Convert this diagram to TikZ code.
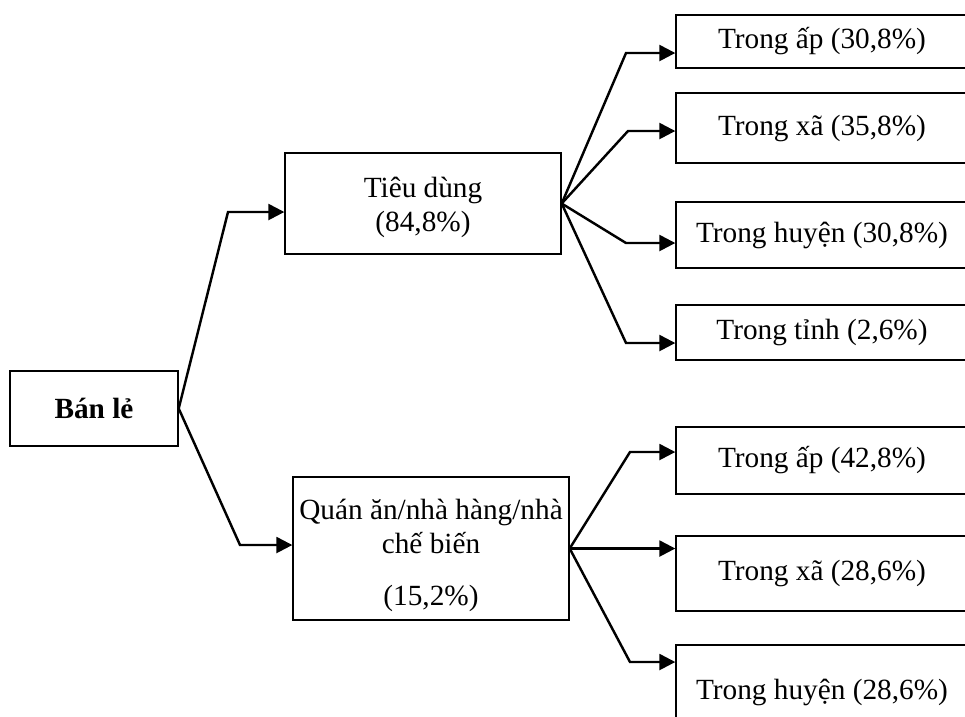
\documentclass[tikz,border=0pt]{standalone}
\usepackage{fontspec}
\setmainfont{Liberation Serif}
\usetikzlibrary{arrows.meta}

\begin{document}
\begin{tikzpicture}[x=0.0144cm,y=-0.0144cm,
  >={Triangle[length=6.5pt,width=6.5pt]},
  box/.style={draw,line width=0.6pt,inner sep=0pt,align=center,font=\fontsize{12}{14.2}\selectfont},
  leaf/.style={box,minimum width=4.205cm},
  link/.style={->,line width=1pt,line join=miter}]
\useasboundingbox (0,0) rectangle (965,716);
\clip (0,0) rectangle (965,716);
\node[box,minimum width=2.419cm,minimum height=1.08cm,font=\fontsize{12}{13.8}\selectfont\bfseries] (ban) at (94,408.5) {Bán lẻ};
\node[box,minimum width=3.974cm,minimum height=1.454cm] (tieu) at (423,203.5) {\rule{0pt}{11.5pt}Tiêu dùng\\(84,8\%)};
\node[box,minimum width=3.974cm,minimum height=2.059cm] (quan) at (431,548.5) {\rule{0pt}{14pt}Quán ăn/nhà hàng/nhà\\chế biến\\[7pt](15,2\%)};
\node[leaf,minimum height=0.763cm] (tap) at (822,41.5) {Trong ấp (30,8\%)};
\node[leaf,minimum height=1.008cm] (txa) at (822,128) {Trong xã (35,8\%)};
\node[leaf,minimum height=0.950cm] (thuyen) at (822,235) {Trong huyện (30,8\%)};
\node[leaf,minimum height=0.792cm] (ttinh) at (822,332.5) {Trong tỉnh (2,6\%)};
\node[leaf,minimum height=0.965cm] (qap) at (822,460.5) {Trong ấp (42,8\%)};
\node[leaf,minimum height=1.08cm] (qxa) at (822,573.5) {Trong xã (28,6\%)};
\node[leaf,minimum height=1.354cm] (qhuyen) at (822,692) {Trong huyện (28,6\%)};
% bend points
\coordinate (kt) at (228,212);
\coordinate (kq) at (240,545);
\coordinate (k1) at (626,53);
\coordinate (k2) at (628,131);
\coordinate (k3) at (626,243);
\coordinate (k4) at (626,343);
\coordinate (k5) at (630,452);
\coordinate (k7) at (630,662);
\draw[link] (ban.east)--(kt)--(kt -| tieu.west);
\draw[link] (ban.east)--(kq)--(kq -| quan.west);
\draw[link] (tieu.east)--(k1)--(k1 -| tap.west);
\draw[link] (tieu.east)--(k2)--(k2 -| txa.west);
\draw[link] (tieu.east)--(k3)--(k3 -| thuyen.west);
\draw[link] (tieu.east)--(k4)--(k4 -| ttinh.west);
\draw[link] (quan.east)--(k5)--(k5 -| qap.west);
\draw[link] (quan.east)--(quan.east -| qxa.west);
\draw[link] (quan.east)--(k7)--(k7 -| qhuyen.west);
\end{tikzpicture}
\end{document}
